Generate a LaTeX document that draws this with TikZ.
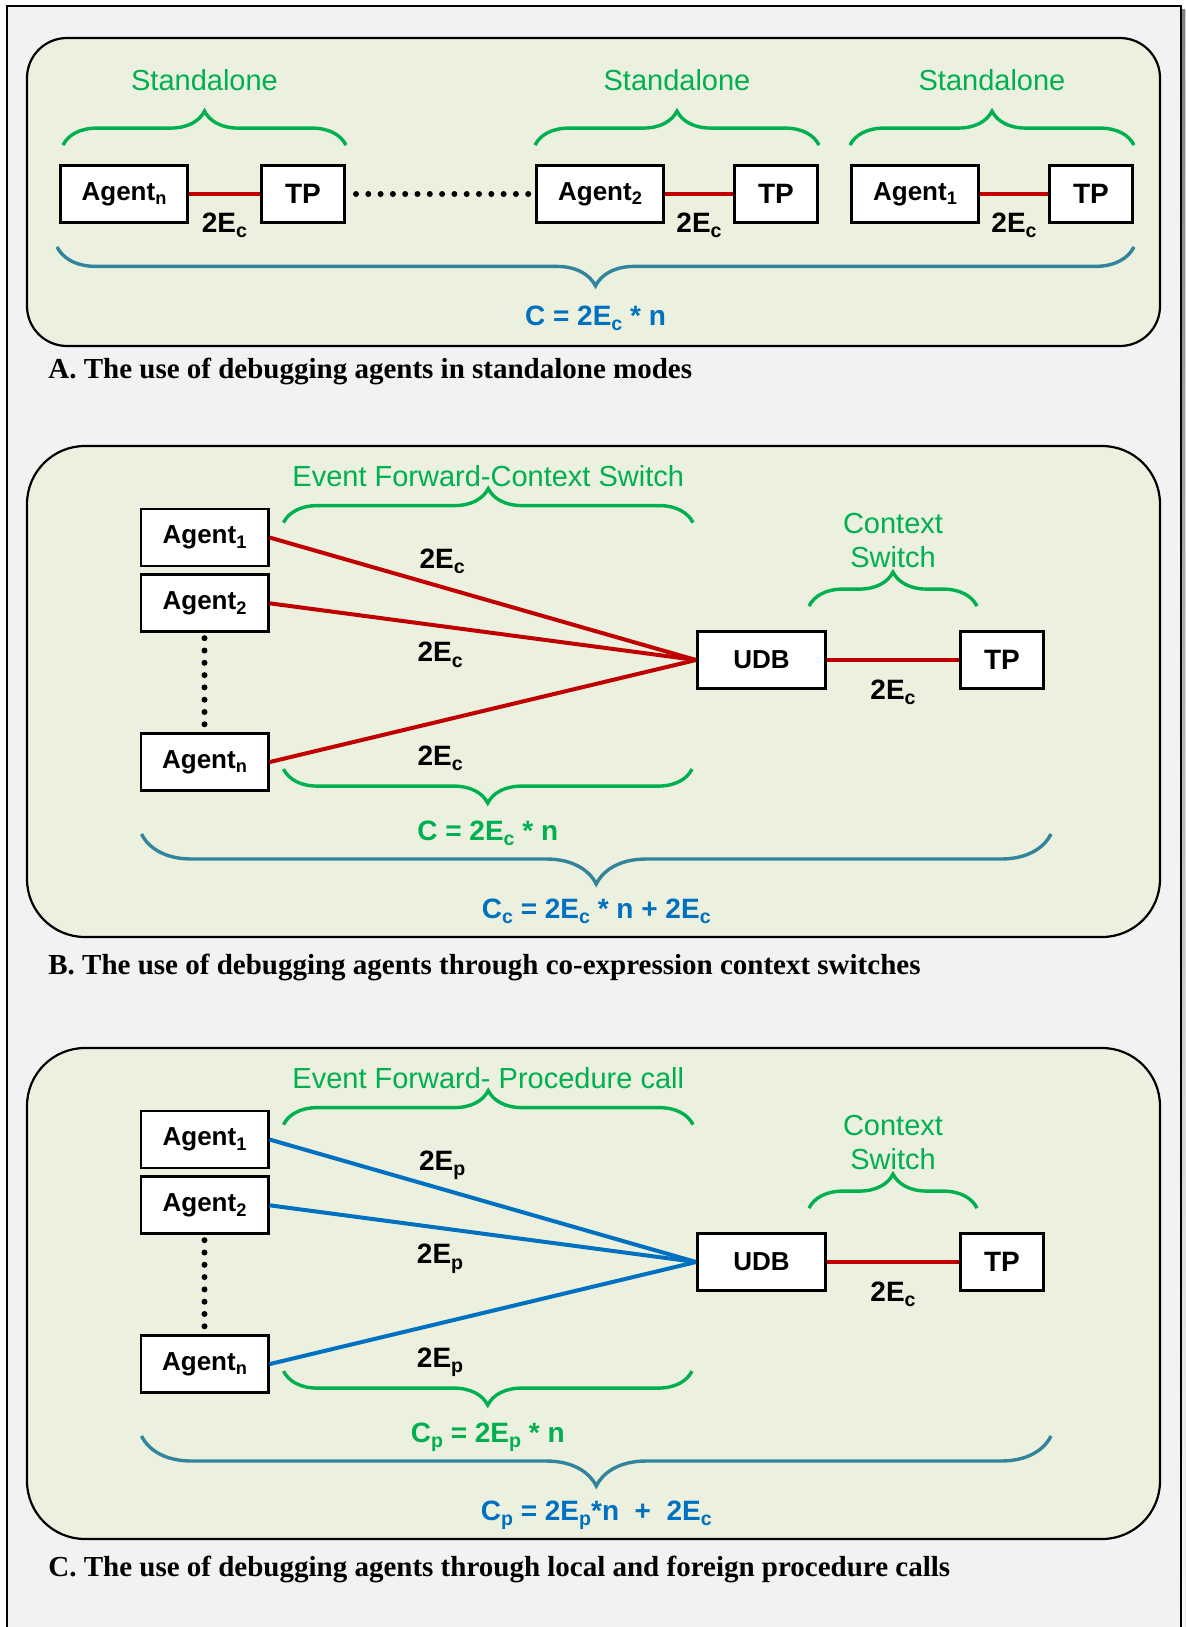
\documentclass[tikz,border=0pt]{standalone}
\usepackage{fontspec}
\setmainfont{Liberation Serif}
\setsansfont{Liberation Sans}
\usepackage{graphicx}
\usetikzlibrary{positioning,decorations.pathreplacing}
\definecolor{paper}{HTML}{F2F2F2}
\definecolor{sheet}{HTML}{EBF1DE}
\definecolor{shade}{HTML}{808080}
\definecolor{green}{HTML}{00B050}
\definecolor{blue}{HTML}{0070C0}
\definecolor{teal}{HTML}{31849B}
\definecolor{red}{HTML}{C00000}
\newcommand{\lsub}[1]{\raisebox{-0.18em}{\scalebox{0.7}{#1}}}
\tikzset{
  box/.style={
    draw=black, fill=white, line width=1.4pt, inner sep=0pt,
    minimum height=28.5pt, font=\sffamily\bfseries\fontsize{13}{15}\selectfont
  },
  agent/.style={box, minimum width=63.6pt},
  tp/.style={box, minimum width=41.6pt, font=\sffamily\bfseries\fontsize{14}{16}\selectfont},
  udb/.style={box, minimum width=64.1pt},
  panel/.style={draw=black, fill=sheet, line width=1.1pt},
  link/.style={draw=red, line width=2pt},
  call/.style={draw=blue, line width=2pt},
  dotrow/.style={line width=3pt, line cap=round, dash pattern=on 0pt off 6.15pt},
  cost/.style={
    inner sep=0pt, text height=10pt, text depth=0pt,
    font=\sffamily\bfseries\fontsize{14}{16}\selectfont
  },
  note/.style={
    inner sep=0pt, text=green, align=center,
    font=\sffamily\fontsize{14.5}{17}\selectfont
  },
  gbrace/.style={decorate, decoration={brace, amplitude=17pt}, draw=green, line width=1.7pt},
  gbrace down/.style={decorate, decoration={brace, mirror, amplitude=17pt}, draw=green, line width=1.7pt},
  tbrace/.style={decorate, decoration={brace, mirror, amplitude=#1}, draw=teal, line width=1.7pt},
  caption/.style={anchor=base west, inner sep=0pt, font=\bfseries\fontsize{14.5}{17}\selectfont}
}

\begin{document}
\begin{tikzpicture}[x=0.5pt, y=-0.5pt]
  \useasboundingbox (0,0) rectangle (1185,1627);
  \clip (0,0) rectangle (1185,1627);
  \fill[white] (0,0) rectangle (1185,1627);
  \fill[shade] (12,10) rectangle (1186,1700);
  \draw[fill=paper, line width=1pt] (7,6) rectangle (1181,1700);

  \draw[panel, rounded corners=20pt] (27,38) rectangle (1160,346);
  \node[agent] (an) at (124,194) {Agent\lsub{n}};
  \node[tp, right=35.5pt of an] (tp1) {TP};
  \node[agent, right=94.5pt of tp1] (a2) {Agent\lsub{2}};
  \node[tp, right=34pt of a2] (tp2) {TP};
  \node[agent, right=15.5pt of tp2] (a1) {Agent\lsub{1}};
  \node[tp, right=34pt of a1] (tp3) {TP};
  \draw[link] (an) -- (tp1) node[cost, midway, below=8pt] (e1) {2E\lsub{c}};
  \draw[link] (a2) -- (tp2) node[cost, midway, below=8pt] (e2) {2E\lsub{c}};
  \draw[link] (a1) -- (tp3) node[cost, midway, below=8pt] (e3) {2E\lsub{c}};
  \draw[dotrow, shorten <=5pt, shorten >=3pt] (tp1) -- (a2);
  \draw[gbrace] ([xshift=2pt, yshift=9.5pt]an.north west) -- ([yshift=9.5pt]tp1.north east)
    node[note, midway, above=26.5pt] (s1) {Standalone};
  \draw[gbrace] ([yshift=9.5pt]a2.north west) -- ([yshift=9.5pt]tp2.north east)
    node[note, midway, above=26.5pt] (s2) {Standalone};
  \draw[gbrace] ([yshift=9.5pt]a1.north west) -- ([yshift=9.5pt]tp3.north east)
    node[note, midway, above=26.5pt] (s3) {Standalone};
  \draw[tbrace=19.5pt] ([xshift=-1pt, yshift=-11.5pt]an.south west) -- ([yshift=-11.5pt]tp3.south east)
    node[cost, text=blue, midway, below=28.5pt] (ca) {C = 2E\lsub{c} * n};
  \node[caption] (capa) at (48,378) {A. The use of debugging agents in standalone modes};

  \draw[panel, rounded corners=29pt] (27,446) rectangle (1160,937);
  \node[agent] (b1) at (204.5,537.5) {Agent\lsub{1}};
  \node[agent, below=3pt of b1] (b2) {Agent\lsub{2}};
  \node[agent, below=49.5pt of b2] (bn) {Agent\lsub{n}};
  \node[udb] (bu) at (761.5,660) {UDB};
  \node[tp, right=66pt of bu] (bt) {TP};
  \draw[link] (b1.east) -- (bu.west) node[cost, pos=0.405, above=8.5pt] (f1) {2E\lsub{c}};
  \draw[link] (b2.east) -- (bu.west) node[cost, pos=0.4, below=7pt] (f2) {2E\lsub{c}};
  \draw[link] (bn.east) -- (bu.west) node[cost, pos=0.4, below=11pt] (f3) {2E\lsub{c}};
  \draw[link] (bu) -- (bt) node[cost, midway, below=8.5pt] (f4) {2E\lsub{c}};
  \draw[dotrow, shorten <=2.5pt, shorten >=2.5pt] (b2) -- (bn);
  \draw[gbrace] ([xshift=7pt, yshift=-7.5pt]b1.north east) -- ([xshift=-1.5pt, yshift=-7.5pt]bu.west |- b1.north)
    node[note, midway, above=17pt] (g1) {Event Forward-Context Switch};
  \draw[gbrace] ([xshift=-9pt, yshift=12pt]bu.north east) -- ([xshift=9pt, yshift=12pt]bt.north west)
    node[note, midway, above=18.5pt] (g2) {Context\\Switch};
  \draw[gbrace down] ([xshift=7pt, yshift=-3.5pt]bn.east) -- ([xshift=-2pt, yshift=-3.5pt]bu.west |- bn.east)
    node[cost, text=green, midway, below=25pt] (g3) {C = 2E\lsub{c} * n};
  \draw[tbrace=25pt] ([xshift=1pt, yshift=-21pt]bn.south west) -- ([xshift=3pt, yshift=-21pt]bt.east |- bn.south)
    node[cost, text=blue, midway, below=31.5pt] (gb) {C\lsub{c} = 2E\lsub{c} * n + 2E\lsub{c}};
  \node[caption] (capb) at (48,974) {B. The use of debugging agents through co-expression context switches};

  \draw[panel, rounded corners=29pt] (27,1048) rectangle (1160,1539);
  \node[agent] (c1) at (204.5,1139.5) {Agent\lsub{1}};
  \node[agent, below=3pt of c1] (c2) {Agent\lsub{2}};
  \node[agent, below=49.5pt of c2] (cn) {Agent\lsub{n}};
  \node[udb] (cu) at (761.5,1262) {UDB};
  \node[tp, right=66pt of cu] (ct) {TP};
  \draw[call] (c1.east) -- (cu.west) node[cost, pos=0.405, above=8.5pt] (h1) {2E\lsub{p}};
  \draw[call] (c2.east) -- (cu.west) node[cost, pos=0.4, below=7pt] (h2) {2E\lsub{p}};
  \draw[call] (cn.east) -- (cu.west) node[cost, pos=0.4, below=11pt] (h3) {2E\lsub{p}};
  \draw[link] (cu) -- (ct) node[cost, midway, below=8.5pt] (h4) {2E\lsub{c}};
  \draw[dotrow, shorten <=2.5pt, shorten >=2.5pt] (c2) -- (cn);
  \draw[gbrace] ([xshift=7pt, yshift=-7.5pt]c1.north east) -- ([xshift=-1.5pt, yshift=-7.5pt]cu.west |- c1.north)
    node[note, midway, above=17pt] (k1) {Event Forward- Procedure call};
  \draw[gbrace] ([xshift=-9pt, yshift=12pt]cu.north east) -- ([xshift=9pt, yshift=12pt]ct.north west)
    node[note, midway, above=18.5pt] (k2) {Context\\Switch};
  \draw[gbrace down] ([xshift=7pt, yshift=-3.5pt]cn.east) -- ([xshift=-2pt, yshift=-3.5pt]cu.west |- cn.east)
    node[cost, text=green, midway, below=25pt] (k3) {C\lsub{p} = 2E\lsub{p} * n};
  \draw[tbrace=25pt] ([xshift=1pt, yshift=-21pt]cn.south west) -- ([xshift=3pt, yshift=-21pt]ct.east |- cn.south)
    node[cost, text=blue, midway, below=31.5pt] (kb) {C\lsub{p} = 2E\lsub{p}*n\ \ +\ \ 2E\lsub{c}};
  \node[caption] (capc) at (48,1576) {C. The use of debugging agents through local and foreign procedure calls};
\end{tikzpicture}
\end{document}
